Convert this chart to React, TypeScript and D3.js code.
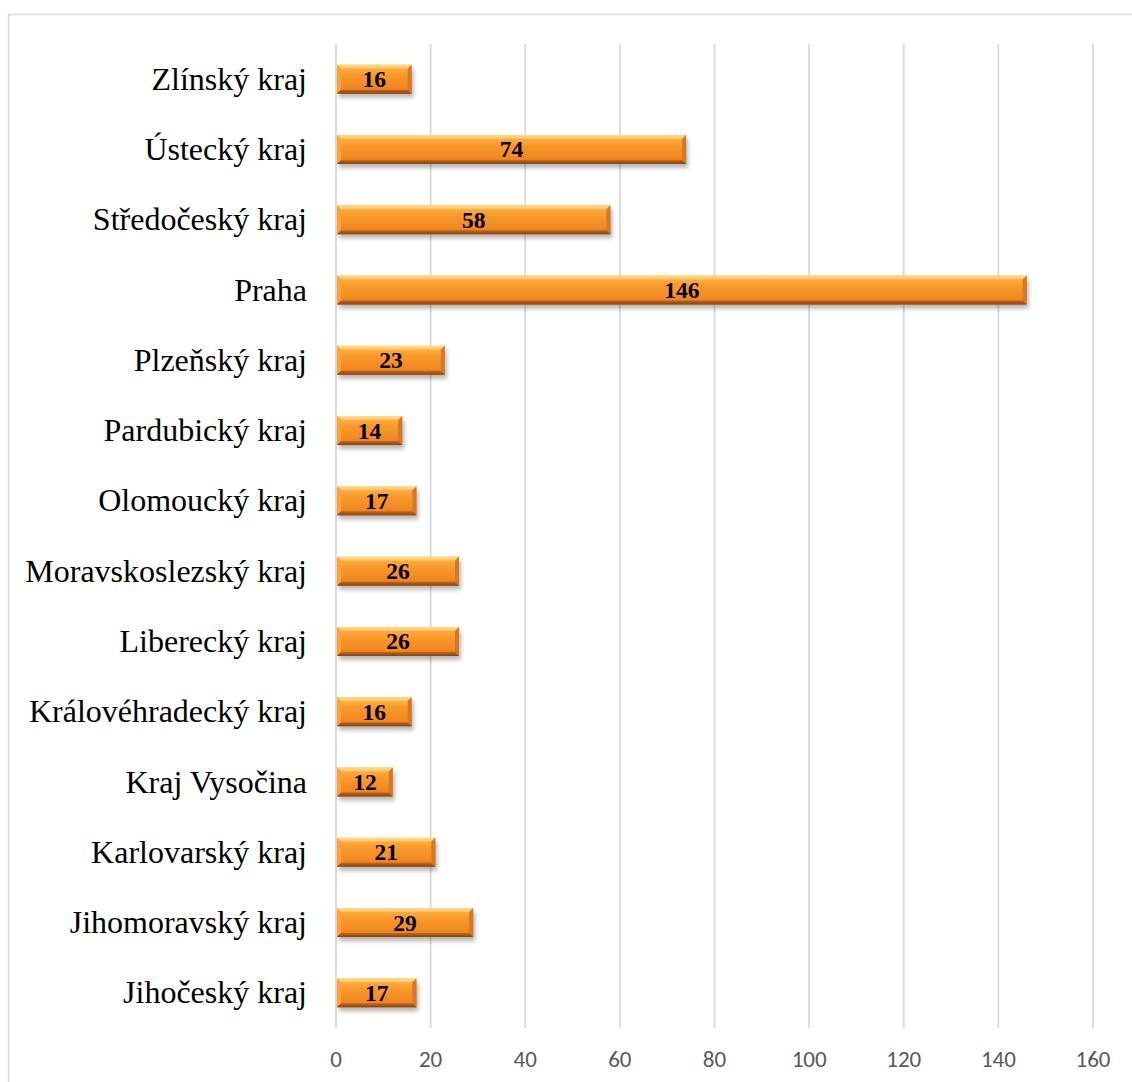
import React from "react";
import * as d3 from "d3";

// Regions listed top to bottom as drawn
const regions = [
  "Zlínský kraj",
  "Ústecký kraj",
  "Středočeský kraj",
  "Praha",
  "Plzeňský kraj",
  "Pardubický kraj",
  "Olomoucký kraj",
  "Moravskoslezský kraj",
  "Liberecký kraj",
  "Královéhradecký kraj",
  "Kraj Vysočina",
  "Karlovarský kraj",
  "Jihomoravský kraj",
  "Jihočeský kraj",
];
const counts = [16, 74, 58, 146, 23, 14, 17, 26, 26, 16, 12, 21, 29, 17];
const xTicks = [0, 20, 40, 60, 80, 100, 120, 140, 160];

const W = 1132;
const H = 1082;
const plot = { left: 336, right: 1093, top: 44, bottom: 1028 };
const BEVEL = 4;

export default function App() {
  const x = d3.scaleLinear().domain([0, 160]).range([plot.left, plot.right]);
  const y = d3
    .scaleBand<string>()
    .domain(regions)
    .range([plot.top, plot.bottom])
    .paddingInner(0.587)
    .paddingOuter(0.2935);
  const bh = y.bandwidth();

  const serif = "'Times New Roman', 'Liberation Serif', Tinos, serif";
  const axisFont = "Calibri, Carlito, 'DejaVu Sans Condensed', sans-serif";

  return (
    <svg
      width={W}
      height={H}
      viewBox={`0 0 ${W} ${H}`}
      style={{ position: "absolute", left: 0, top: 0, background: "#fff" }}
    >
      <defs>
        <linearGradient id="body" x1="0" y1="0" x2="0" y2="1">
          <stop offset="0" stopColor="#FDB845" />
          <stop offset="0.35" stopColor="#F99A2C" />
          <stop offset="0.75" stopColor="#F18A22" />
          <stop offset="1" stopColor="#E57C1C" />
        </linearGradient>
        <linearGradient id="topEdge" x1="0" y1="0" x2="0" y2="1">
          <stop offset="0" stopColor="#FFDC90" />
          <stop offset="1" stopColor="#FDC25E" />
        </linearGradient>
        <linearGradient id="botEdge" x1="0" y1="0" x2="0" y2="1">
          <stop offset="0" stopColor="#C4661A" />
          <stop offset="1" stopColor="#864312" />
        </linearGradient>
        <filter id="shadow" x="-5%" y="-40%" width="115%" height="200%">
          <feGaussianBlur stdDeviation="2.2" />
        </filter>
      </defs>

      {/* chart frame */}
      <rect
        x={8.5}
        y={14.5}
        width={W + 20}
        height={H + 20}
        fill="none"
        stroke="#D9D9D9"
        strokeWidth={1.5}
      />

      {/* vertical gridlines */}
      {xTicks.map((t) => (
        <line
          key={t}
          x1={x(t)}
          x2={x(t)}
          y1={plot.top}
          y2={plot.bottom}
          stroke="#D9D9D9"
          strokeWidth={1.8}
        />
      ))}

      {/* x tick labels */}
      {xTicks.map((t) => (
        <text
          key={t}
          x={x(t)}
          y={1066.5}
          textAnchor="middle"
          fontFamily={axisFont}
          fontSize={23}
          fill="#595959"
        >
          {t}
        </text>
      ))}

      {/* bars */}
      {regions.map((r, i) => {
        const v = counts[i];
        const x0 = x(0) + 1;
        const x1 = x(v);
        const y0 = y(r)!;
        const y1 = y0 + bh;
        const b = BEVEL;
        const cy = y0 + bh / 2;
        return (
          <g key={r}>
            <rect
              x={x0 + 2}
              y={y0 + 4}
              width={x1 - x0}
              height={bh}
              fill="#000"
              opacity={0.28}
              filter="url(#shadow)"
            />
            <rect x={x0} y={y0} width={x1 - x0} height={bh} fill="url(#body)" />
            {/* bevel facets */}
            <polygon
              points={`${x0},${y0} ${x1},${y0} ${x1 - b},${y0 + b} ${x0 + b},${y0 + b}`}
              fill="url(#topEdge)"
            />
            <polygon
              points={`${x0},${y0} ${x0 + b},${y0 + b} ${x0 + b},${y1 - b} ${x0},${y1}`}
              fill="#FAA33A"
            />
            <polygon
              points={`${x1},${y0} ${x1},${y1} ${x1 - b},${y1 - b} ${x1 - b},${y0 + b}`}
              fill="#D9761E"
            />
            <polygon
              points={`${x0},${y1} ${x0 + b},${y1 - b} ${x1 - b},${y1 - b} ${x1},${y1}`}
              fill="url(#botEdge)"
            />
            <text
              x={(x0 + x1) / 2}
              y={cy + 8}
              textAnchor="middle"
              fontFamily={serif}
              fontWeight="bold"
              fontSize={23.5}
              fill="#000"
            >
              {v}
            </text>
          </g>
        );
      })}

      {/* category labels */}
      {regions.map((r) => (
        <text
          key={r}
          x={307}
          y={y(r)! + bh / 2 + 10.5}
          textAnchor="end"
          fontFamily={serif}
          fontSize={32}
          fill="#000"
        >
          {r}
        </text>
      ))}
    </svg>
  );
}
